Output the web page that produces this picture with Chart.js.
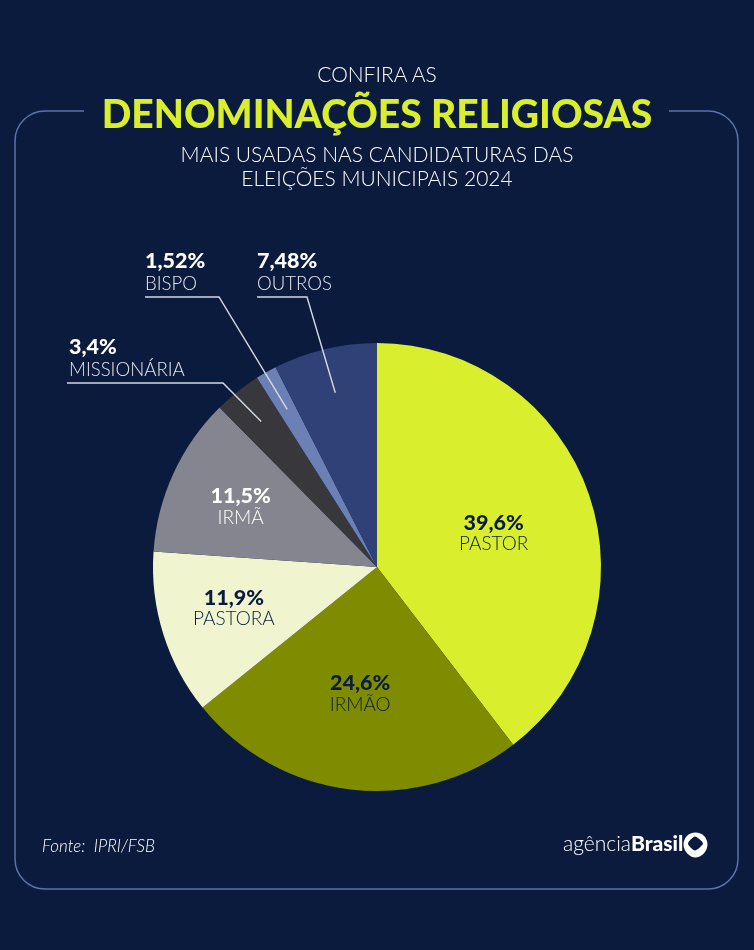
<!DOCTYPE html>
<html lang="pt-BR">
<head>
<meta charset="utf-8">
<title>Denominações religiosas</title>
<script src="https://cdn.jsdelivr.net/npm/chart.js@4"></script>
<style>
  html, body { margin: 0; padding: 0; background: #0b1b3e; }
  #page { position: relative; width: 754px; height: 950px; overflow: hidden; background: #0b1b3e; font-family: Lato, sans-serif; color: #fff; }
  #chart { position: absolute; left: 0; top: 0; }
  .line { position: absolute; left: 0; width: 754px; text-align: center; white-space: nowrap; }
  #l1 { top: 61px; font-size: 21px; font-weight: 300; }
  #l2 { top: 90px; font-size: 39px; font-weight: 900; color: #d9ef2e; }
  #l3 { top: 141px; font-size: 21px; font-weight: 300; }
  #l4 { top: 165px; font-size: 21px; font-weight: 300; }
  #fonte { position: absolute; left: 42px; top: 835px; font-size: 17px; font-style: italic; font-weight: 300; white-space: pre; }
  #logo { position: absolute; left: 563px; top: 830px; font-size: 21px; font-weight: 300; white-space: nowrap; }
  #logo b { font-weight: 900; }
  #logoIcon { position: absolute; left: 682px; top: 831px; }
</style>
</head>
<body>
<div id="page">
  <canvas id="chart" width="754" height="950"></canvas>
  <div class="line" id="l1">CONFIRA AS</div>
  <div class="line" id="l2">DENOMINAÇÕES RELIGIOSAS</div>
  <div class="line" id="l3">MAIS USADAS NAS CANDIDATURAS DAS</div>
  <div class="line" id="l4">ELEIÇÕES MUNICIPAIS 2024</div>
  <div id="fonte">Fonte:  IPRI/FSB</div>
  <div id="logo">agência<b>Brasil</b></div>
  <svg id="logoIcon" width="27" height="28" viewBox="0 0 27 28">
    <path d="M13.5 1.5 C20.5 1.5 25.5 7 25.5 13.5 C25.5 20.5 19 26.5 13.5 26.5 C7.5 26.5 1.5 20 1.5 13.5 C1.5 7 6.5 1.5 13.5 1.5 Z" fill="#fff"/>
    <path d="M13 5.5 C14.5 5.5 21 10.5 21 12.5 C21 14 15 19.5 13 19.5 C11 19.5 6 14.5 6 12.5 C6 10.5 11.5 5.5 13 5.5 Z" fill="#0b1b3e"/>
  </svg>
</div>
<script>
const categories = ['PASTOR', 'IRMÃO', 'PASTORA', 'IRMÃ', 'MISSIONÁRIA', 'BISPO', 'OUTROS'];
const shares = [39.6, 24.6, 11.9, 11.5, 3.4, 1.52, 7.48];
const shareLabels = ['39,6%', '24,6%', '11,9%', '11,5%', '3,4%', '1,52%', '7,48%'];
const sliceColors = ['#d9ef2e', '#7f8c00', '#f0f5cf', '#85858f', '#38383c', '#6b80b5', '#2f4177'];

// labels inside the pie
const innerLabels = [
    { i: 0, r: 0.545, dx: 1, dy: 6, color: '#0b1b3e' },
    { i: 1, r: 0.555, dx: -2, dy: 4, color: '#0b1b3e' },
    { i: 2, r: 0.67, dx: 0, dy: -3, color: '#0b1b3e' },
    { i: 3, r: 0.67, dx: 0, dy: 3, color: '#ffffff' }
];
// labels outside, with a leader line going down to the slice
const outerLabels = [
    { i: 4, x: 69, xEnd: 67, knee: 223, y: 383, r: 0.83 },
    { i: 5, x: 145, xEnd: 145, knee: 219, y: 297, r: 0.81 },
    { i: 6, x: 257, xEnd: 257, knee: 307, y: 297, r: 0.8 }
];

const framePlugin = {
    id: 'frame',
    beforeDraw(chart) {
        const c = chart.ctx;
        const l = 15, r = 738, t = 111, b = 889, rad = 30;
        c.save();
        c.strokeStyle = '#5b73a8';
        c.lineWidth = 1.5;
        c.beginPath();
        c.moveTo(84, t);
        c.lineTo(l + rad, t);
        c.arcTo(l, t, l, t + rad, rad);
        c.lineTo(l, b - rad);
        c.arcTo(l, b, l + rad, b, rad);
        c.lineTo(r - rad, b);
        c.arcTo(r, b, r, b - rad, rad);
        c.lineTo(r, t + rad);
        c.arcTo(r, t, r - rad, t, rad);
        c.lineTo(669, t);
        c.stroke();
        c.restore();
    }
};

const labelPlugin = {
    id: 'sliceLabels',
    afterDatasetsDraw(chart) {
        const c = chart.ctx;
        const arcs = chart.getDatasetMeta(0).data;
        const pointOn = (arc, frac) => {
            const a = (arc.startAngle + arc.endAngle) / 2;
            return {
                x: arc.x + Math.cos(a) * arc.outerRadius * frac,
                y: arc.y + Math.sin(a) * arc.outerRadius * frac
            };
        };
        c.save();
        c.textBaseline = 'middle';

        innerLabels.forEach(l => {
            const p = pointOn(arcs[l.i], l.r);
            c.textAlign = 'center';
            c.fillStyle = l.color;
            c.font = '900 21.5px Lato';
            c.fillText(shareLabels[l.i], p.x + l.dx, p.y + l.dy - 11);
            c.font = '300 19px Lato';
            c.fillText(categories[l.i], p.x + l.dx, p.y + l.dy + 10);
        });

        outerLabels.forEach(l => {
            const p = pointOn(arcs[l.i], l.r);
            c.textAlign = 'left';
            c.fillStyle = '#ffffff';
            c.font = '900 21.5px Lato';
            c.fillText(shareLabels[l.i], l.x, l.y - 36);
            c.font = '300 18.6px Lato';
            c.fillStyle = '#e4e7ee';
            c.fillText(categories[l.i], l.x, l.y - 13);
            c.strokeStyle = '#d5d9e2';
            c.lineWidth = 1.4;
            c.beginPath();
            c.moveTo(l.xEnd, l.y);
            c.lineTo(l.knee, l.y);
            c.lineTo(p.x, p.y);
            c.stroke();
        });
        c.restore();
    }
};

new Chart(document.getElementById('chart'), {
    type: 'pie',
    data: {
        labels: categories,
        datasets: [{
            data: shares,
            backgroundColor: sliceColors,
            borderWidth: 0
        }]
    },
    options: {
        responsive: false,
        animation: false,
        layout: { padding: { left: 153, right: 153, top: 343, bottom: 159 } },
        plugins: {
            legend: { display: false },
            tooltip: { enabled: false }
        }
    },
    plugins: [framePlugin, labelPlugin]
});
</script>
</body>
</html>
